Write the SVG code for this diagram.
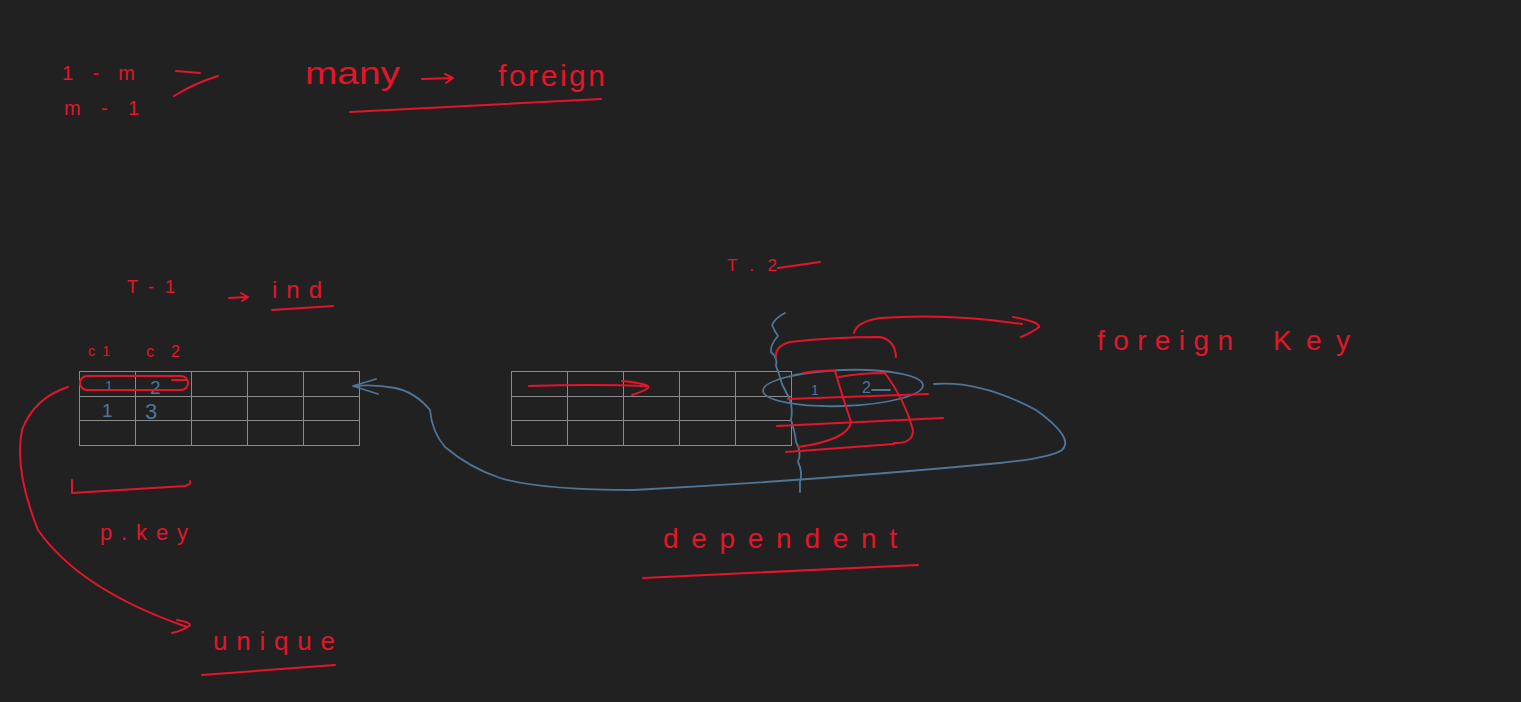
<svg xmlns="http://www.w3.org/2000/svg" width="1521" height="702" viewBox="0 0 1521 702">
<style>
.r{fill:none;stroke:#e3152b;stroke-width:2;stroke-linecap:round;stroke-linejoin:round}
.b{fill:none;stroke:#4f7596;stroke-width:1.8;stroke-linecap:round;stroke-linejoin:round}
.g{fill:none;stroke:#8a8a8a;stroke-width:1}
.tr{fill:#e3152b;font-family:"Liberation Sans",sans-serif;font-weight:normal}
.tb{fill:#4f7596;font-family:"Liberation Sans",sans-serif}
</style>
<rect width="1521" height="702" fill="#212121"/>

<g id="labels-top">
<text class="tr" x="62" y="80" font-size="20" textLength="73" lengthAdjust="spacing">1-m</text>
<text class="tr" x="64" y="115" font-size="20" textLength="75" lengthAdjust="spacing">m-1</text>
<path class="r" d="M176 71 L200 73 M174 96 Q195 83 218 76"/>
<text class="tr" x="305" y="84" font-size="32" textLength="95" lengthAdjust="spacingAndGlyphs">many</text>
<path class="r" d="M422 79 L452 78 M445 74 L453 78 L446 83"/>
<text class="tr" x="498" y="86" font-size="30" textLength="107" lengthAdjust="spacing">foreign</text>
<path class="r" d="M350 112 L601 99"/>
</g>

<g id="t1-labels">
<text class="tr" x="127" y="293" font-size="18" textLength="48" lengthAdjust="spacing">T-1</text>
<path class="r" d="M229 298 L247 297 M241 293 L248 297 L242 301"/>
<text class="tr" x="272" y="298" font-size="24" textLength="50" lengthAdjust="spacing">ind</text>
<path class="r" d="M272 310 L333 306"/>
<text class="tr" x="88" y="356" font-size="14" textLength="22" lengthAdjust="spacing">c1</text>
<text class="tr" x="146" y="357" font-size="16" textLength="34" lengthAdjust="spacing">c2</text>
</g>

<g id="table1">
<rect class="g" x="79.5" y="371.5" width="280" height="74"/>
<path class="g" d="M135.5 371.5V445.5M191.5 371.5V445.5M247.5 371.5V445.5M303.5 371.5V445.5M79.5 396.5H359.5M79.5 420.5H359.5"/>
<text class="tb" x="105" y="391" font-size="14">1</text>
<text class="tb" x="150" y="394" font-size="19">2</text>
<text class="tb" x="102" y="417" font-size="19">1</text>
<text class="tb" x="145" y="419" font-size="22">3</text>
<rect class="r" x="80" y="376" width="108" height="14" rx="7"/>
<path class="r" d="M172 380 L186 380"/>
</g>

<g id="pkey">
<path class="r" d="M72 480 L72 493 L185 486 Q192 484 190 481"/>
<text class="tr" x="100" y="540" font-size="22" textLength="88" lengthAdjust="spacing">p.key</text>
<text class="tr" x="213" y="650" font-size="26" textLength="122" lengthAdjust="spacing">unique</text>
<path class="r" d="M202 675 L335 665"/>
</g>

<g id="t2-labels">
<text class="tr" x="727" y="271" font-size="17" textLength="50" lengthAdjust="spacing">T.2</text>
<path class="r" d="M778 268 L820 262"/>
<text class="tr" x="1097" y="350" font-size="28" textLength="136" lengthAdjust="spacing">foreign</text>
<text class="tr" x="1273" y="350" font-size="28" textLength="77" lengthAdjust="spacing">Key</text>
<text class="tr" x="663" y="548" font-size="28" textLength="234" lengthAdjust="spacing">dependent</text>
<path class="r" d="M643 578 L918 565"/>
</g>

<g id="table2">
<rect class="g" x="511.5" y="371.5" width="280" height="74"/>
<path class="g" d="M567.5 371.5V445.5M623.5 371.5V445.5M679.5 371.5V445.5M735.5 371.5V445.5M511.5 396.5H791.5M511.5 420.5H791.5"/>
<text class="tb" x="811" y="395" font-size="14">1</text>
<text class="tb" x="862" y="393" font-size="16">2</text>
<path class="b" d="M872 390 L890 390"/>
<path class="r" d="M529 386 Q590 384 647 386 M622 381 Q652 384 648 388 Q642 392 632 395"/>
</g>

<g id="fk-marks">
<ellipse class="b" cx="843" cy="388" rx="80" ry="18" transform="rotate(-2 843 388)"/>
<path class="b" d="M785 313 Q775 318 772 325 Q775 332 778 336 Q770 345 771 352 Q778 358 776 366 Q780 376 782 384 Q786 392 790 400 Q793 410 791 420 Q795 432 796 442 Q802 452 798 462 Q803 472 800 482 L800 492"/>
<path class="r" d="M803 373 Q820 370 835 371 Q842 395 851 422 Q848 440 798 447"/>
<path class="r" d="M839 377 Q860 373 885 373 Q905 400 913 430 Q913 444 894 443"/>
<path class="r" d="M788 399 L928 394 M777 426 L943 418 M786 452 L894 444"/>
<path class="r" d="M776 357 Q775 346 790 342 Q835 337 880 337 Q895 340 896 357"/>
<path class="r" d="M854 333 Q856 322 880 318 Q950 313 1022 324 M1013 317 Q1040 322 1039 327 Q1033 332 1021 337"/>
</g>

<g id="connectors">
<path class="r" d="M68 387 Q34 398 22 430 Q14 470 38 530 Q80 590 187 627 M177 620 Q190 622 190 625 Q185 630 172 633"/>
<path class="b" d="M934 384 Q980 380 1036 410 Q1075 438 1062 450 Q1050 458 1000 463 Q820 480 634 490 Q540 490 500 478 Q470 468 445 447 Q432 432 430 410 Q415 392 395 388 Q375 384 354 386 M376 379 L353 386 L378 394"/>
</g>
</svg>
